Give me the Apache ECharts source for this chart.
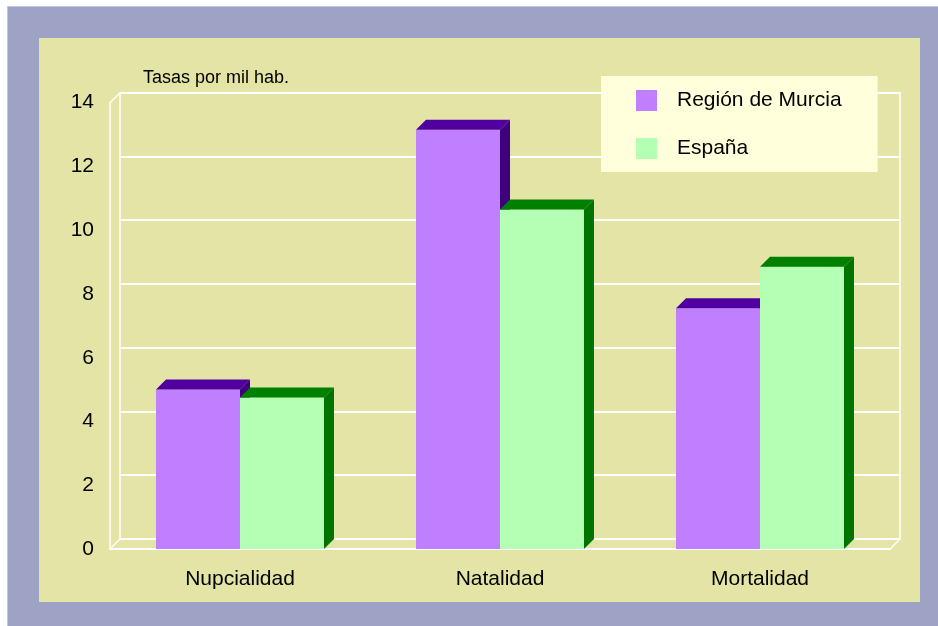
<!DOCTYPE html>
<html>
<head>
<meta charset="utf-8">
<script src="https://cdn.jsdelivr.net/npm/echarts@6/dist/echarts.min.js"></script>
<style>
  html, body { margin: 0; padding: 0; background: #fff; }
  #outer { position: absolute; left: 7px; top: 6px; right: 0; bottom: 0; width: 931px; height: 620px; background: #9ea3c6; border-top: 1px solid #c3c6de; border-left: 1px solid #c3c6de; box-sizing: border-box; }
  #inner { position: absolute; left: 39px; top: 38px; width: 881px; height: 564px; background: #e5e4a7; }
  #chart { position: absolute; left: 0; top: 0; width: 938px; height: 626px; }
</style>
</head>
<body>
<div id="outer"></div>
<div id="inner"></div>
<div id="chart"></div>
<script>
const categories = ['Nupcialidad', 'Natalidad', 'Mortalidad']
const murcia = [5.0, 13.15, 7.55]
const espana = [4.75, 10.65, 8.85]
const seriesNames = ['Región de Murcia', 'España']
const yMin = 0
const yMax = 14
const yStep = 2

// depth of the 3d box (front plane -> back plane)
const DX = 10
const DY = -10

const palette = [
  { front: '#bf7fff', top: '#5000a0', side: '#3e007c' },
  { front: '#b4ffb4', top: '#008000', side: '#007400' }
]

const chart = echarts.init(document.getElementById('chart'))

function barItem(seriesIdx) {
  return function (params, api) {
    const top = api.coord([api.value(0), api.value(1)])
    const base = api.coord([api.value(0), 0])
    const band = api.size([1, 0])[0]
    const w = band * 0.323
    const x0 = top[0] - w + seriesIdx * w
    const c = palette[seriesIdx]
    return {
      type: 'group',
      children: [
        {
          type: 'rect',
          shape: { x: x0, y: top[1], width: w, height: base[1] - top[1] },
          style: { fill: c.front }
        },
        {
          type: 'polygon',
          shape: { points: [[x0, top[1]], [x0 + DX, top[1] + DY], [x0 + w + DX, top[1] + DY], [x0 + w, top[1]]] },
          style: { fill: c.top }
        },
        {
          type: 'polygon',
          shape: { points: [[x0 + w, top[1]], [x0 + w + DX, top[1] + DY], [x0 + w + DX, base[1] + DY], [x0 + w, base[1]]] },
          style: { fill: c.side }
        }
      ]
    }
  }
}

function frameItem(params, api) {
  const cs = params.coordSys
  const line = (x1, y1) => ({
    type: 'line',
    shape: { x1: x1, y1: y1, x2: x1 + DX, y2: y1 + DY },
    style: { stroke: '#fff', lineWidth: 1.5 }
  })
  return {
    type: 'group',
    children: [
      line(cs.x, cs.y),
      line(cs.x, cs.y + cs.height),
      line(cs.x + cs.width, cs.y + cs.height)
    ]
  }
}

chart.setOption({
  animation: false,
  textStyle: { fontFamily: 'Liberation Sans, Arial, sans-serif', color: '#000' },
  title: {
    text: 'Tasas por mil hab.',
    left: 143,
    top: 69,
    padding: 0,
    textStyle: { fontSize: 18, fontWeight: 'normal', color: '#000' }
  },
  legend: {
    data: seriesNames,
    orient: 'vertical',
    left: 601,
    top: 76,
    padding: [14, 36, 13, 35],
    backgroundColor: '#ffffdc',
    itemWidth: 21,
    itemHeight: 21,
    itemGap: 27,
    icon: 'rect',
    textStyle: { fontSize: 21, color: '#000', padding: [0, 0, 0, 15] }
  },
  grid: [
    { left: 110, right: 48, top: 102.7, bottom: 77 },
    { left: 120, right: 38, top: 92.7, bottom: 87, show: true, borderColor: '#fff', borderWidth: 1.5 }
  ],
  xAxis: [
    {
      type: 'category',
      gridIndex: 0,
      data: categories,
      axisLine: { lineStyle: { color: '#fff', width: 2 } },
      axisTick: { show: false },
      axisLabel: { fontSize: 21, color: '#000', margin: 20 }
    },
    { type: 'category', gridIndex: 1, data: categories, show: false }
  ],
  yAxis: [
    {
      type: 'value',
      gridIndex: 0,
      min: yMin,
      max: yMax,
      interval: yStep,
      axisLine: { show: true, lineStyle: { color: '#fff', width: 1.5 } },
      axisTick: { show: false },
      splitLine: { show: false },
      axisLabel: { fontSize: 21, color: '#000', margin: 16 }
    },
    {
      type: 'value',
      gridIndex: 1,
      min: yMin,
      max: yMax,
      interval: yStep,
      axisLine: { show: false },
      axisTick: { show: false },
      axisLabel: { show: false },
      splitLine: { lineStyle: { color: '#fff', width: 2 } }
    }
  ],
  series: [
    {
      name: 'frame',
      type: 'custom',
      xAxisIndex: 0,
      yAxisIndex: 0,
      clip: false,
      silent: true,
      z: 1,
      data: [[0, 0]],
      renderItem: frameItem
    },
    {
      name: seriesNames[0],
      type: 'custom',
      xAxisIndex: 0,
      yAxisIndex: 0,
      clip: false,
      z: 3,
      itemStyle: { color: palette[0].front },
      data: murcia.map((v, i) => [i, v]),
      renderItem: barItem(0)
    },
    {
      name: seriesNames[1],
      type: 'custom',
      xAxisIndex: 0,
      yAxisIndex: 0,
      clip: false,
      z: 4,
      itemStyle: { color: palette[1].front },
      data: espana.map((v, i) => [i, v]),
      renderItem: barItem(1)
    }
  ]
})

window.addEventListener('resize', () => chart.resize())
</script>
</body>
</html>
